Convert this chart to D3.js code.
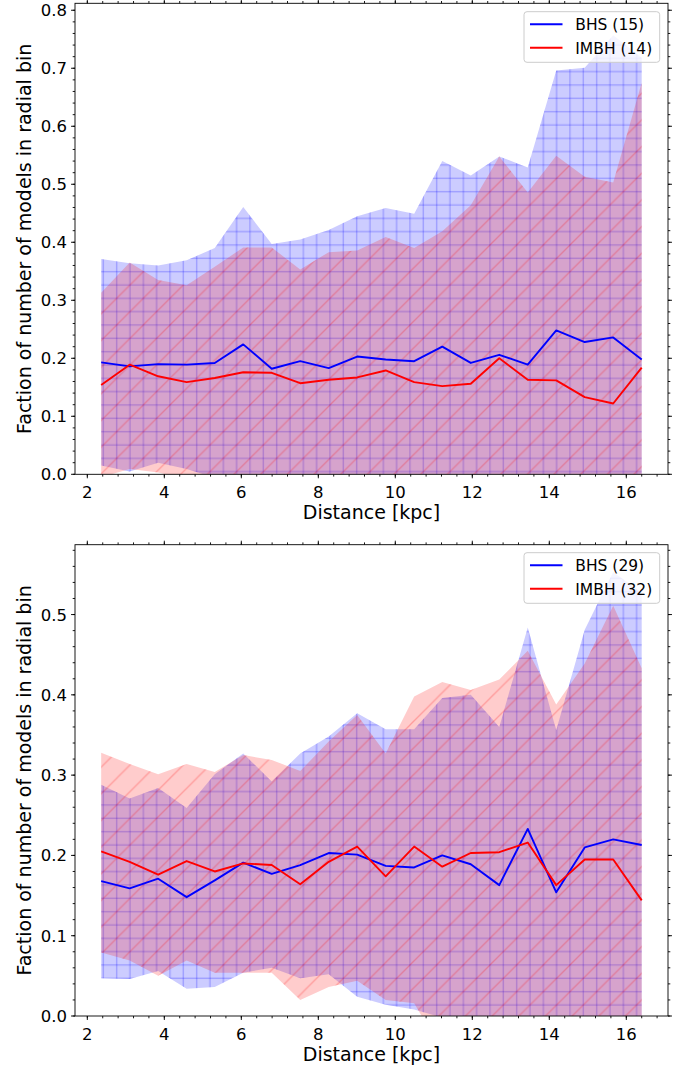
<!DOCTYPE html>
<html><head><meta charset="utf-8">
<script src="https://cdn.jsdelivr.net/npm/d3@7"></script>
<style>body{margin:0;background:#fff;} svg{display:block;font-family:"DejaVu Sans",sans-serif;}</style>
</head><body><svg id="c" width="686" height="1068"></svg>
<script>
// ---------- data ----------
const distance = [2.36, 3.10, 3.84, 4.58, 5.31, 6.05, 6.79, 7.53, 8.27, 9.01, 9.75, 10.49, 11.22, 11.96, 12.70, 13.44, 14.18, 14.92, 15.66, 16.40];

const topBhsMean  = [0.193, 0.186, 0.190, 0.189, 0.192, 0.224, 0.182, 0.195, 0.183, 0.203, 0.198, 0.195, 0.220, 0.192, 0.206, 0.189, 0.248, 0.228, 0.236, 0.198];
const topBhsUpper = [0.371, 0.364, 0.360, 0.369, 0.390, 0.461, 0.397, 0.405, 0.421, 0.445, 0.459, 0.449, 0.540, 0.515, 0.548, 0.529, 0.696, 0.701, 0.757, 0.718];
const topBhsLower = [0.015, 0.005, 0.020, 0.009, -0.006, -0.014, -0.034, -0.015, -0.055, -0.039, -0.064, -0.059, -0.100, -0.131, -0.136, -0.151, -0.201, -0.246, -0.286, -0.322];
const topImbhMean  = [0.154, 0.189, 0.169, 0.159, 0.166, 0.176, 0.175, 0.157, 0.163, 0.167, 0.179, 0.159, 0.152, 0.156, 0.200, 0.163, 0.162, 0.133, 0.122, 0.184];
const topImbhUpper = [0.313, 0.365, 0.335, 0.326, 0.358, 0.391, 0.391, 0.353, 0.383, 0.386, 0.409, 0.390, 0.419, 0.464, 0.548, 0.486, 0.549, 0.513, 0.503, 0.675];
const topImbhLower = [-0.005, 0.009, 0.003, -0.008, -0.027, -0.038, -0.041, -0.039, -0.057, -0.053, -0.052, -0.073, -0.116, -0.153, -0.148, -0.160, -0.225, -0.247, -0.260, -0.307];

const botBhsMean  = [0.168, 0.159, 0.171, 0.148, 0.169, 0.191, 0.177, 0.188, 0.203, 0.201, 0.187, 0.185, 0.200, 0.189, 0.163, 0.233, 0.154, 0.210, 0.220, 0.213];
const botBhsUpper = [0.288, 0.271, 0.284, 0.259, 0.301, 0.327, 0.292, 0.327, 0.348, 0.377, 0.357, 0.357, 0.396, 0.400, 0.360, 0.484, 0.356, 0.481, 0.553, 0.527];
const botBhsLower = [0.047, 0.046, 0.056, 0.034, 0.036, 0.054, 0.060, 0.047, 0.052, 0.024, 0.014, 0.008, -0.002, -0.022, -0.034, -0.018, -0.048, -0.062, -0.113, -0.101];
const botImbhMean  = [0.205, 0.192, 0.176, 0.193, 0.180, 0.190, 0.188, 0.164, 0.192, 0.211, 0.174, 0.211, 0.186, 0.203, 0.204, 0.216, 0.163, 0.195, 0.195, 0.144];
const botImbhUpper = [0.328, 0.314, 0.301, 0.314, 0.304, 0.325, 0.319, 0.305, 0.342, 0.375, 0.327, 0.398, 0.416, 0.406, 0.419, 0.455, 0.388, 0.439, 0.511, 0.433];
const botImbhLower = [0.079, 0.069, 0.050, 0.069, 0.054, 0.054, 0.054, 0.020, 0.036, 0.044, 0.020, 0.016, -0.044, -0.001, -0.011, -0.023, -0.062, -0.049, -0.121, -0.146];

const xTicks = [2, 4, 6, 8, 10, 12, 14, 16];
const topYTicks = [0.0, 0.1, 0.2, 0.3, 0.4, 0.5, 0.6, 0.7, 0.8];
const botYTicks = [0.0, 0.1, 0.2, 0.3, 0.4, 0.5];
const topLegend = ["BHS (15)", "IMBH (14)"];
const botLegend = ["BHS (29)", "IMBH (32)"];
const xLabel = "Distance [kpc]";
const yLabel = "Faction of number of models in radial bin";

// ---------- drawing ----------
const svg = d3.select("#c");
const defs = svg.append("defs");
const G = 13.333; // hatch cell
const OX = 10, OY = 5; // hatch origin

// grid '+' hatch (blue)
const pb = defs.append("pattern").attr("id","hatchPlus").attr("patternUnits","userSpaceOnUse")
  .attr("x", OX - G/2).attr("y", OY - G/2).attr("width", 2*G).attr("height", 2*G);
[G/2, 1.5*G].forEach(p => {
  pb.append("line").attr("x1",p).attr("x2",p).attr("y1",0).attr("y2",2*G);
  pb.append("line").attr("y1",p).attr("y2",p).attr("x1",0).attr("x2",2*G);
});
pb.selectAll("line").attr("stroke","rgba(0,0,255,0.24)").attr("stroke-width",1.3);

// diagonal '/' hatch (red)
const pr = defs.append("pattern").attr("id","hatchDiag").attr("patternUnits","userSpaceOnUse")
  .attr("x", OX).attr("y", OY).attr("width", 2*G).attr("height", 2*G);
const T = 2*G;
pr.append("path").attr("d", `M-2,${T+2}L${T+2},-2M-2,2L2,-2M${T-2},${T+2}L${T+2},${T-2}`)
  .attr("stroke","rgba(255,0,0,0.24)").attr("stroke-width",1.3).attr("fill","none");

const xScale = d3.scaleLinear().domain([1.68, 17.083]).range([75, 668]);

function panel(cfg, idx) {
  const y = d3.scaleLinear().domain([0, cfg.ymax]).range([cfg.bottom, cfg.top]);
  const x = xScale;
  const g = svg.append("g");
  const clipId = "clip" + idx;
  defs.append("clipPath").attr("id", clipId).append("rect")
    .attr("x", 75).attr("y", cfg.top).attr("width", 668-75).attr("height", cfg.bottom - cfg.top);
  const plot = g.append("g").attr("clip-path", `url(#${clipId})`);

  const series = [
    {mean: cfg.bMean, up: cfg.bUp, lo: cfg.bLo, color: "#0000ff", hatch: "hatchPlus"},
    {mean: cfg.rMean, up: cfg.rUp, lo: cfg.rLo, color: "#ff0000", hatch: "hatchDiag"}
  ];
  series.forEach(s => {
    const pts = distance.map((d,i) => ({x:d, lo:s.lo[i], up:s.up[i]}));
    const area = d3.area().x(d => x(d.x)).y0(d => y(d.lo)).y1(d => y(d.up));
    plot.append("path").attr("d", area(pts)).attr("fill", s.color).attr("fill-opacity", 0.2);
    plot.append("path").attr("d", area(pts)).attr("fill", `url(#${s.hatch})`);
  });
  series.forEach(s => {
    const line = d3.line().x((d,i) => x(distance[i])).y(d => y(d));
    plot.append("path").attr("d", line(s.mean)).attr("fill","none")
      .attr("stroke", s.color).attr("stroke-width", 1.9).attr("stroke-linejoin","round");
  });

  // spines
  g.append("rect").attr("x",75).attr("y",cfg.top).attr("width",668-75).attr("height",cfg.bottom-cfg.top)
    .attr("fill","none").attr("stroke","#000").attr("stroke-width",0.9);

  // ticks
  const tk = g.append("g").attr("stroke","#000").attr("stroke-width",0.9);
  const xMinor = d3.range(1.6, 17.2, 0.4).filter(v => v >= 1.68 && v <= 17.083);
  xMinor.forEach(v => {
    tk.append("line").attr("x1",x(v)).attr("x2",x(v)).attr("y1",cfg.bottom).attr("y2",cfg.bottom+2.3);
    tk.append("line").attr("x1",x(v)).attr("x2",x(v)).attr("y1",cfg.top).attr("y2",cfg.top-2.3);
  });
  xTicks.forEach(v => {
    tk.append("line").attr("x1",x(v)).attr("x2",x(v)).attr("y1",cfg.bottom).attr("y2",cfg.bottom+4);
    tk.append("line").attr("x1",x(v)).attr("x2",x(v)).attr("y1",cfg.top).attr("y2",cfg.top-4);
  });
  const yMinor = d3.range(0, cfg.ymax, 0.02);
  yMinor.forEach(v => {
    tk.append("line").attr("y1",y(v)).attr("y2",y(v)).attr("x1",75).attr("x2",75-2.3);
    tk.append("line").attr("y1",y(v)).attr("y2",y(v)).attr("x1",668).attr("x2",668+2.3);
  });
  cfg.yTicks.forEach(v => {
    tk.append("line").attr("y1",y(v)).attr("y2",y(v)).attr("x1",75).attr("x2",71);
    tk.append("line").attr("y1",y(v)).attr("y2",y(v)).attr("x1",668).attr("x2",672);
  });

  // tick labels
  xTicks.forEach(v => {
    g.append("text").attr("x", x(v)).attr("y", cfg.bottom + 24).attr("text-anchor","middle")
      .attr("font-size", 16.5).text(v);
  });
  cfg.yTicks.forEach(v => {
    g.append("text").attr("x", 67).attr("y", y(v) + 6).attr("text-anchor","end")
      .attr("font-size", 16.5).text(v.toFixed(1));
  });

  // axis labels
  g.append("text").attr("x", (75+668)/2).attr("y", cfg.bottom + 44.5).attr("text-anchor","middle")
    .attr("font-size", 19).text(xLabel);
  const cy = (cfg.top + cfg.bottom)/2;
  g.append("text").attr("transform", `translate(30.5,${cy}) rotate(-90)`).attr("text-anchor","middle")
    .attr("font-size", 19).text(yLabel);

  // legend
  const L = g.append("g");
  L.append("rect").attr("x",524).attr("y",cfg.legTop).attr("width",135.7).attr("height",50.6)
    .attr("rx",3).attr("fill","rgba(255,255,255,0.8)").attr("stroke","#cccccc").attr("stroke-width",1);
  const cols = ["#0000ff", "#ff0000"];
  cfg.legend.forEach((lab, i) => {
    const ry = cfg.legTop + 12.6 + i*23.5;
    L.append("line").attr("x1",530).attr("x2",562.5).attr("y1",ry).attr("y2",ry)
      .attr("stroke",cols[i]).attr("stroke-width",1.9);
    L.append("text").attr("x",575.3).attr("y",ry+6).attr("font-size",15.5).text(lab);
  });
}

panel({top:3.3, bottom:474.3, ymax:0.812, yTicks: topYTicks, legTop: 11.7, legend: topLegend,
  bMean: topBhsMean, bUp: topBhsUpper, bLo: topBhsLower,
  rMean: topImbhMean, rUp: topImbhUpper, rLo: topImbhLower}, 0);
panel({top:544.7, bottom:1016, ymax:0.587, yTicks: botYTicks, legTop: 552.7, legend: botLegend,
  bMean: botBhsMean, bUp: botBhsUpper, bLo: botBhsLower,
  rMean: botImbhMean, rUp: botImbhUpper, rLo: botImbhLower}, 1);
</script></body></html>
